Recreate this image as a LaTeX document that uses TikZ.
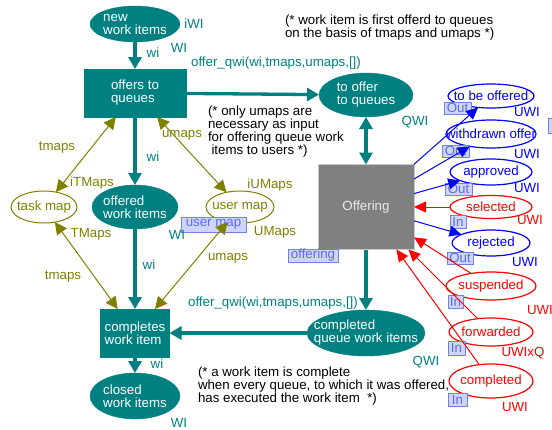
\documentclass[tikz,border=0pt]{standalone}
\usepackage{fontspec}
\setmainfont{Liberation Sans}
\usetikzlibrary{shapes.geometric,arrows.meta}
\definecolor{cpnteal}{RGB}{0,128,128}
\definecolor{cpnolive}{RGB}{128,128,0}
\definecolor{cpnblue}{RGB}{0,0,255}
\definecolor{cpnred}{RGB}{255,0,0}
\definecolor{cpngrey}{RGB}{128,128,128}
\definecolor{cpnedge}{RGB}{200,200,200}
\definecolor{tagfill}{RGB}{206,212,250}
\definecolor{tagline}{RGB}{112,130,228}
\definecolor{tagtext}{RGB}{92,112,212}

\begin{document}
\begin{tikzpicture}[x=1pt,y=-1pt,
  every node/.style={font=\fontsize{13.3}{13}\selectfont, inner sep=0pt, outer sep=0pt},
  place/.style={ellipse, fill=cpnteal, draw=cpnteal},
  trans/.style={rectangle, fill=cpnteal, draw=cpnteal},
  intext/.style={text=white, align=left},
  mapplace/.style={ellipse, draw=cpnolive, line width=1pt, fill=white},
  ioplace/.style={ellipse, line width=1.2pt, fill=white},
  tag/.style={rectangle, fill=tagfill, draw=tagline, line width=0.8pt, text=tagtext, minimum height=13pt},
  flow/.style={cpnteal, line width=3.3pt, -{Triangle[length=12pt,width=13pt]}},
  biflow/.style={cpnteal, line width=3.3pt, {Triangle[length=12pt,width=13pt]}-{Triangle[length=12pt,width=13pt]}},
  mapflow/.style={cpnolive, line width=1pt, {Triangle[length=12pt,width=12pt]}-{Triangle[length=12pt,width=12pt]}},
  outflow/.style={cpnblue, line width=1pt, -{Triangle[length=12pt,width=11pt]}},
  inflow/.style={cpnred, line width=1pt, -{Triangle[length=12pt,width=11pt]}},
  tealtext/.style={text=cpnteal},
  olivetext/.style={text=cpnolive},
  bluetext/.style={text=cpnblue},
  redtext/.style={text=cpnred},
  note/.style={align=left, anchor=north west, text=black},
]
\useasboundingbox (0,0) rectangle (552,429);

% main flow of work items
\node[place, minimum width=90pt, minimum height=36pt,
      label={[intext]center:new\\work items}] (newwi) at (135,24) {};
\node[trans, minimum width=102pt, minimum height=48pt, intext] (offers) at (135,93) {offers to\\queues};
\node[place, minimum width=94pt, minimum height=44pt,
      label={[intext]center:to offer\\to queues}] (tooffer) at (366,95) {};
\node[place, minimum width=86pt, minimum height=44pt,
      label={[intext]center:offered\\work items}] (offered) at (135,207) {};
\node[rectangle, fill=cpngrey, draw=cpnedge, line width=1pt, minimum width=96pt,
      minimum height=85pt, text=white!92!black] (offering) at (366,207) {Offering};
\node[place, minimum width=118pt, minimum height=46pt,
      label={[intext]center:completed\\queue work items}] (cqwi) at (366,333) {};
\node[trans, minimum width=69pt, minimum height=48pt, intext] (completes) at (135,333) {completes\\work item};
\node[place, minimum width=90pt, minimum height=46pt,
      label={[intext]center:closed\\work items}] (closed) at (135,396) {};

% maps
\node[mapplace, minimum width=66pt, minimum height=32pt,
      label={[olivetext]center:task map}] (taskmap) at (44,207) {};
\node[mapplace, minimum width=68pt, minimum height=32pt,
      label={[olivetext]center:user map}] (usermap) at (240,207) {};

% interface places of the Offering module
\node[ioplace, draw=cpnblue, minimum width=86pt, minimum height=24pt,
      label={[bluetext]center:to be offered}] (tobe) at (491,96) {};
\node[ioplace, draw=cpnblue, minimum width=90pt, minimum height=28pt,
      label={[bluetext]center:withdrawn offer}] (withdrawn) at (491,134) {};
\node[ioplace, draw=cpnblue, minimum width=82pt, minimum height=26pt,
      label={[bluetext]center:approved}] (approved) at (491,172) {};
\node[ioplace, draw=cpnred, minimum width=82pt, minimum height=23pt,
      label={[redtext]center:selected}] (selected) at (491,207) {};
\node[ioplace, draw=cpnblue, minimum width=78pt, minimum height=26pt,
      label={[bluetext]center:rejected}] (rejected) at (491,243) {};
\node[ioplace, draw=cpnred, minimum width=90pt, minimum height=28pt,
      label={[redtext]center:suspended}] (suspended) at (491,286) {};
\node[ioplace, draw=cpnred, minimum width=84pt, minimum height=28pt,
      label={[redtext]center:forwarded}] (forwarded) at (491,332) {};
\node[ioplace, draw=cpnred, minimum width=84pt, minimum height=34pt,
      label={[redtext]center:completed}] (completedio) at (491,381) {};

% tags
\node[tag, minimum width=50pt] (offtag) at (313,255.5) {offering};
\node[tag, minimum width=65pt, minimum height=15pt] (umtag) at (213.5,224.5) {user map};
\node[tag, minimum width=27pt, minimum height=12pt] (tagA) at (457.5,108) {Out};
\node[tag, minimum width=27pt, minimum height=12pt] (tagB) at (455.5,151) {Out};
\node[tag, minimum width=27pt, minimum height=12pt] (tagC) at (458.5,189) {Out};
\node[tag, minimum width=16pt, minimum height=13pt] (tagD) at (458,221.5) {In};
\node[tag, minimum width=26pt, minimum height=12pt] (tagE) at (460,258) {Out};
\node[tag, minimum width=15pt, minimum height=13pt] (tagF) at (455.5,301.5) {In};
\node[tag, minimum width=17pt, minimum height=14pt] (tagG) at (456.5,348) {In};
\node[tag, minimum width=19pt, minimum height=13pt] (tagH) at (457.5,399.5) {In};
\node[tag, minimum width=14pt, minimum height=15pt] (tagI) at (555,125.5) {};

% arcs
\draw[flow] (newwi) -- (offers);
\draw[flow] (offers) -- (tooffer);
\draw[biflow] (tooffer) -- (offering);
\draw[flow] (offers) -- (offered);
\draw[flow] (offered) -- (completes);
\draw[flow] (offering) -- (cqwi);
\draw[flow] (cqwi) -- (completes);
\draw[flow] (completes) -- (closed);

\draw[mapflow] (offers) -- (taskmap);
\draw[mapflow] (offers) -- (usermap);
\draw[mapflow] (taskmap) -- (completes);
\draw[mapflow] (usermap) -- (completes);

\draw[outflow] (offering) -- (tobe);
\draw[outflow] (offering) -- (withdrawn);
\draw[outflow] (offering) -- (approved);
\draw[outflow] (offering) -- (rejected);
\draw[inflow] (selected) -- (offering);
\draw[inflow] (suspended) -- (offering);
\draw[inflow] (forwarded) -- (offering);
\draw[inflow] (completedio) -- (offering);

% inscriptions
\node[tealtext] (l1) at (194,24) {iWI};
\node[tealtext] (l2) at (153,53) {wi};
\node[tealtext] (l3) at (179,48) {WI};
\node[tealtext] (l4) at (276,63) {offer\_qwi(wi,tmaps,umaps,[])};
\node[tealtext] (l5) at (415,122) {QWI};
\node[tealtext] (l6) at (153,157) {wi};
\node[tealtext] (l7) at (177,235) {WI};
\node[tealtext] (l8) at (149,265) {wi};
\node[tealtext] (l9) at (273,303) {offer\_qwi(wi,tmaps,umaps,[])};
\node[tealtext] (l10) at (157,364) {wi};
\node[tealtext] (l11) at (179,423) {WI};
\node[tealtext] (l12) at (426,362) {QWI};

\node[olivetext] (m1) at (57,148) {tmaps};
\node[olivetext] (m2) at (92,183) {iTMaps};
\node[olivetext] (m3) at (182,135) {umaps};
\node[olivetext] (m4) at (270,185) {iUMaps};
\node[olivetext] (m5) at (91,234) {TMaps};
\node[olivetext] (m6) at (63,277) {tmaps};
\node[olivetext] (m7) at (228,258) {umaps};
\node[olivetext] (m8) at (275,232) {UMaps};

\node[bluetext] (u1) at (527,112) {UWI};
\node[bluetext] (u2) at (527,154) {UWI};
\node[bluetext] (u3) at (527,188) {UWI};
\node[redtext] (u4) at (530,220) {UWI};
\node[bluetext] (u5) at (525,262) {UWI};
\node[redtext] (u6) at (540,310) {UWI};
\node[redtext] (u7) at (523,353) {UWIxQ};
\node[redtext] (u8) at (515,407) {UWI};

% comments
\node[note] (c1) at (285,15) {(* work item is first offerd to queues\\on the basis of tmaps and umaps *)};
\node[note] (c2) at (208,106) {(* only umaps are\\necessary as input\\for offering queue work\\\hspace*{3.5pt}items to users *)};
\node[note] (c3) at (198,367) {(* a work item is complete\\when every queue, to which it was offered,\\has executed the work item\ \ *)};
\end{tikzpicture}
\end{document}
